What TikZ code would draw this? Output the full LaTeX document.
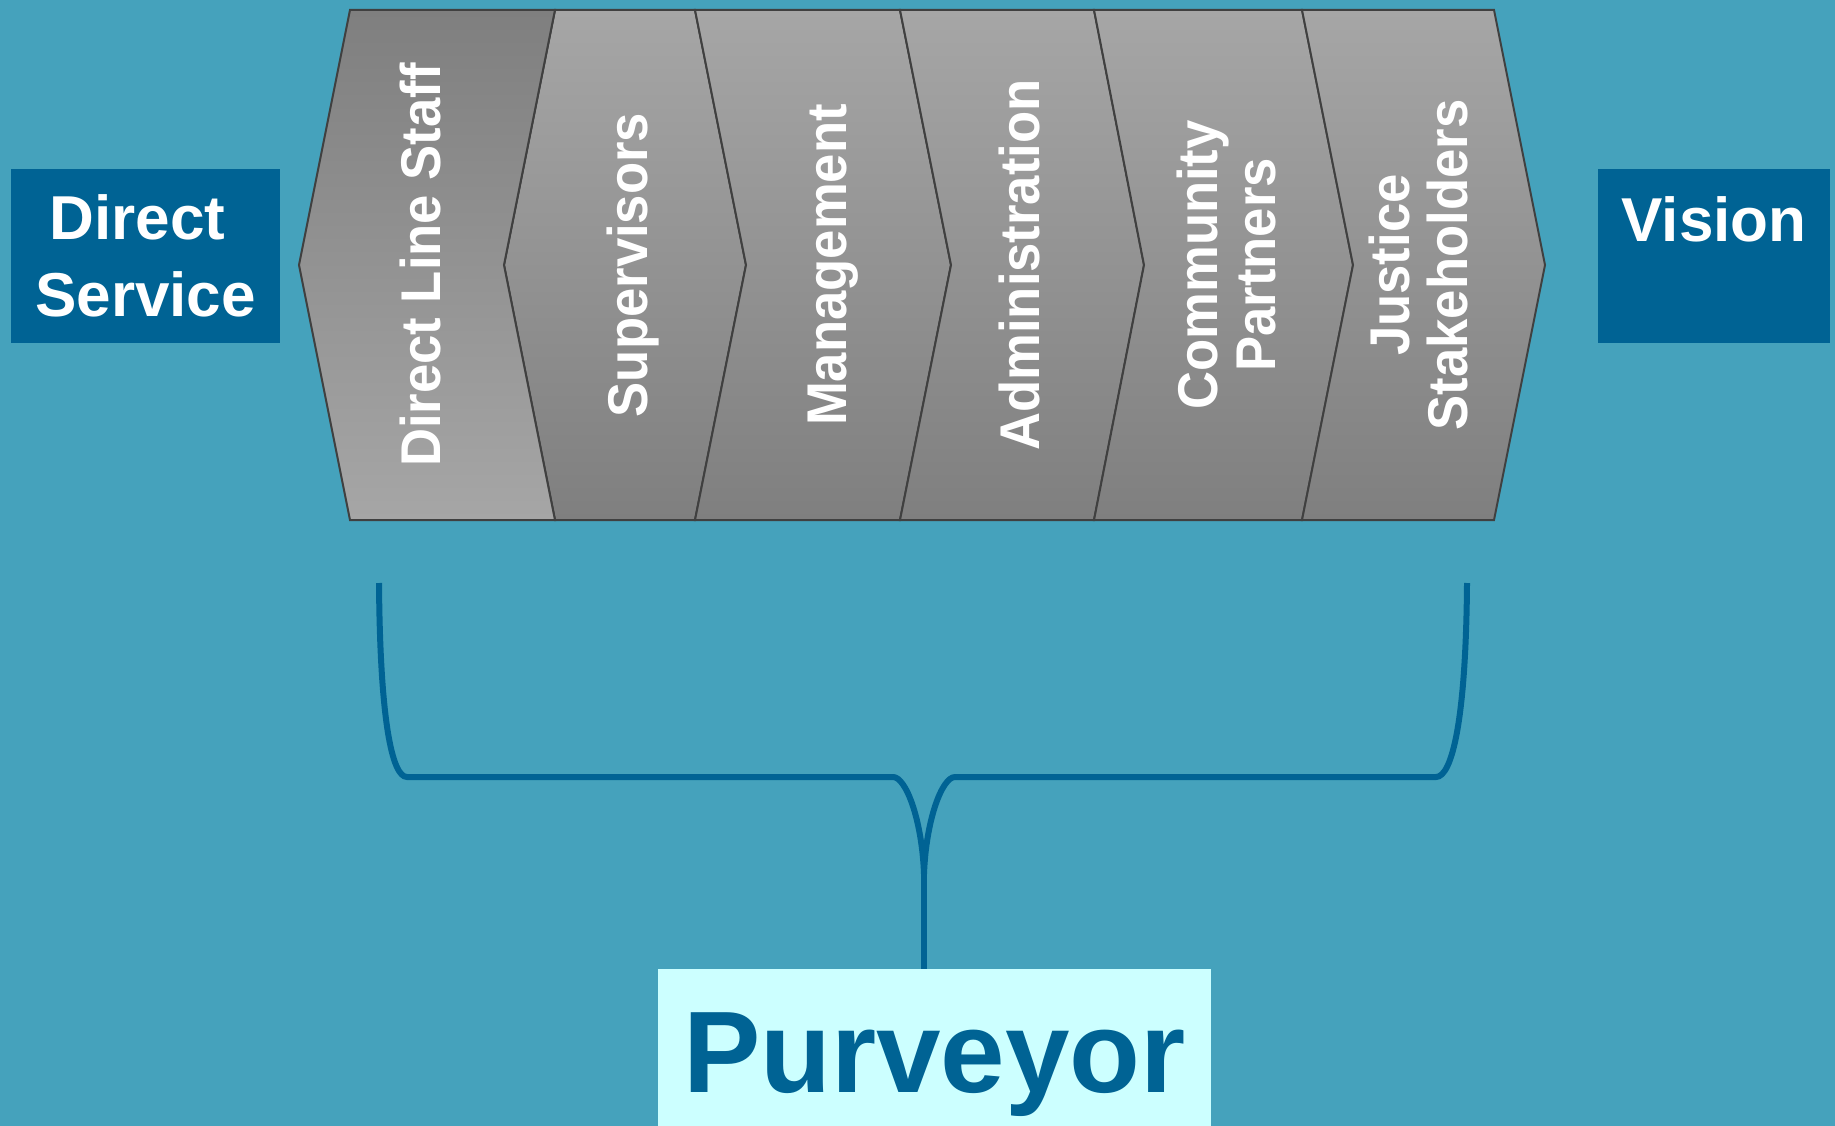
\documentclass[tikz,border=0pt]{standalone}
\usepackage{fontspec}
\setmainfont{Liberation Sans}
\newfontfamily\chevfont{Liberation Sans}[FakeStretch=0.94]
\definecolor{bgteal}{RGB}{69,162,188}
\definecolor{deepblue}{RGB}{0,99,148}
\definecolor{paleaqua}{RGB}{204,255,255}
\definecolor{chevlight}{RGB}{166,166,166}
\definecolor{chevdark}{RGB}{127,127,127}
\definecolor{chevedge}{RGB}{64,64,64}

\begin{document}
\begin{tikzpicture}[x=1pt,y=-1pt,
  chev/.style={draw=chevedge, line width=2pt, line join=miter,
    top color=chevlight, bottom color=chevdark},
  chevrev/.style={chev, top color=chevdark, bottom color=chevlight},
  chevtext/.style={rotate=90, anchor=base, text=white, inner sep=0pt,
    font=\chevfont\bfseries\fontsize{56}{58}\selectfont},
  sidebox/.style={fill=deepblue, text=white, inner sep=0pt,
    font=\bfseries\fontsize{62}{77}\selectfont},
  brace/.style={draw=deepblue, line width=6pt}
]
\useasboundingbox (0,0) rectangle (1835,1126);
\fill[bgteal] (0,0) rectangle (1835,1126);

% boundaries of the six stages: top, middle and bottom points
\foreach \i/\tx/\mx in {0/350/299, 1/555/504, 2/695/746, 3/900/951,
                        4/1094/1144, 5/1302/1353, 6/1494/1545} {
  \coordinate (t\i) at (\tx,10);
  \coordinate (m\i) at (\mx,265);
  \coordinate (b\i) at (\tx,520);
}

% stage shapes
\path[chev] (t1) -- (t2) -- (m2) -- (b2) -- (b1) -- (m1) -- cycle;
\foreach \i [evaluate=\i as \j using int(\i+1)] in {2,...,5} {
  \path[chev] (t\i) -- (t\j) -- (m\j) -- (b\j) -- (b\i) -- (m\i) -- cycle;
}
\path[chevrev] (t0) -- (t1) -- (m1) -- (b1) -- (b0) -- (m0) -- cycle;

% stage labels
\node[chevtext] (dls)   at (440,265)  {Direct Line Staff};
\node[chevtext] (sup)   at (647,265)  {Supervisors};
\node[chevtext] (mgmt)  at (846,265)  {Management};
\node[chevtext] (adm)   at (1039,265) {Administration};
\node[chevtext] (comm)  at (1217,265) {Community};
\node[chevtext] (part)  at (1275,265) {Partners};
\node[chevtext] (just)  at (1409,265) {Justice};
\node[chevtext] (stake) at (1467,265) {Stakeholders};

% end boxes
\node[sidebox, align=center, minimum width=269pt, minimum height=174pt]
  (direct) at (145.5,256) {Direct\kern16pt\\Service};
\node[sidebox, minimum width=232pt, text height=72pt, text depth=102pt,
  anchor=base] (vision) at (1714,241) {Vision};

% purveyor box
\node[fill=paleaqua, text=deepblue, inner sep=0pt, minimum width=553pt,
  text height=123.5pt, text depth=33.5pt, anchor=base,
  font=\bfseries\fontsize{116}{120}\selectfont] (purv) at (934.5,1092.5) {Purveyor};

% brace gathering all stages
\coordinate (bl) at (379,583);
\coordinate (br) at (1467,583);
\coordinate (cusp) at (924,874);
\draw[brace] (bl) .. controls (380,720) and (392,777) .. (407,777)
  -- (893,777) .. controls (906,777) and (922,820) .. (cusp)
  .. controls (926,820) and (942,777) .. (955,777)
  -- (1436,777) .. controls (1452,777) and (1466,720) .. (br);
\draw[brace] (cusp) -- (cusp |- purv.north);
\end{tikzpicture}
\end{document}
